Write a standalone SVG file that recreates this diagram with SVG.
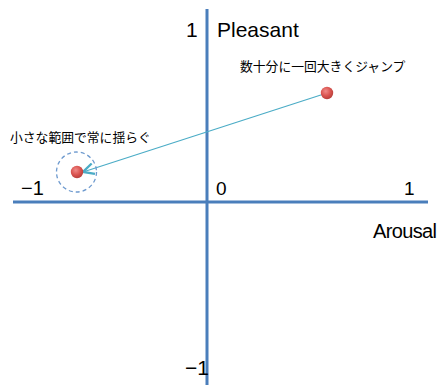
<svg xmlns="http://www.w3.org/2000/svg" width="446" height="385" viewBox="0 0 446 385">
<style>
.ax{stroke:#4a7ebb;stroke-width:3;fill:none}
.lbl{font-family:"Liberation Sans",Arial,sans-serif;fill:#000}
.jp{font-family:"Noto Sans CJK JP","Liberation Sans",sans-serif;font-size:12.8px;fill:#000}
.conn{stroke:#4bacc6;stroke-width:1.2;fill:none}
</style>
<defs>
<radialGradient id="dot" cx="0.4" cy="0.35" r="0.65">
<stop offset="0" stop-color="#f08a88"/>
<stop offset="0.6" stop-color="#d9534f"/>
<stop offset="1" stop-color="#b8403c"/>
</radialGradient>
<marker id="arr" viewBox="0 0 12 12" refX="11" refY="6" markerWidth="13" markerHeight="13" markerUnits="userSpaceOnUse" orient="auto">
<path d="M1,1 L11,6 L1,11" fill="none" stroke="#4bacc6" stroke-width="2.2"/>
</marker>
</defs>
<rect width="446" height="385" fill="#fff"/>
<g id="axes">
<line class="ax" x1="13" y1="202" x2="428" y2="202"/>
<line class="ax" x1="207" y1="9" x2="207" y2="385"/>
</g>
<g id="labels">
<text class="lbl" x="186" y="37" font-size="21">1</text>
<text class="lbl" x="217" y="37" font-size="21">Pleasant</text>
<text class="lbl" x="21" y="195" font-size="20">−1</text>
<text class="lbl" x="216" y="195" font-size="19">0</text>
<text class="lbl" x="404" y="195" font-size="19">1</text>
<text class="lbl" x="373" y="238" font-size="20" textLength="64">Arousal</text>
<text class="lbl" x="185" y="375" font-size="21">−1</text>
</g>
<g id="connectors">
<line class="conn" x1="327" y1="93" x2="83" y2="172" marker-end="url(#arr)"/>
</g>
<g id="small-range">
<circle cx="76.5" cy="172" r="20" fill="none" stroke="#6f9bcf" stroke-width="1.3" stroke-dasharray="4,3"/>
<circle cx="77" cy="172" r="6.2" fill="url(#dot)"/>
<text class="jp" x="10" y="142">小さな範囲で常に揺らぐ</text>
</g>
<g id="jump">
<circle cx="327" cy="93" r="6.2" fill="url(#dot)"/>
<text class="jp" x="240" y="71">数十分に一回大きくジャンプ</text>
</g>
</svg>
